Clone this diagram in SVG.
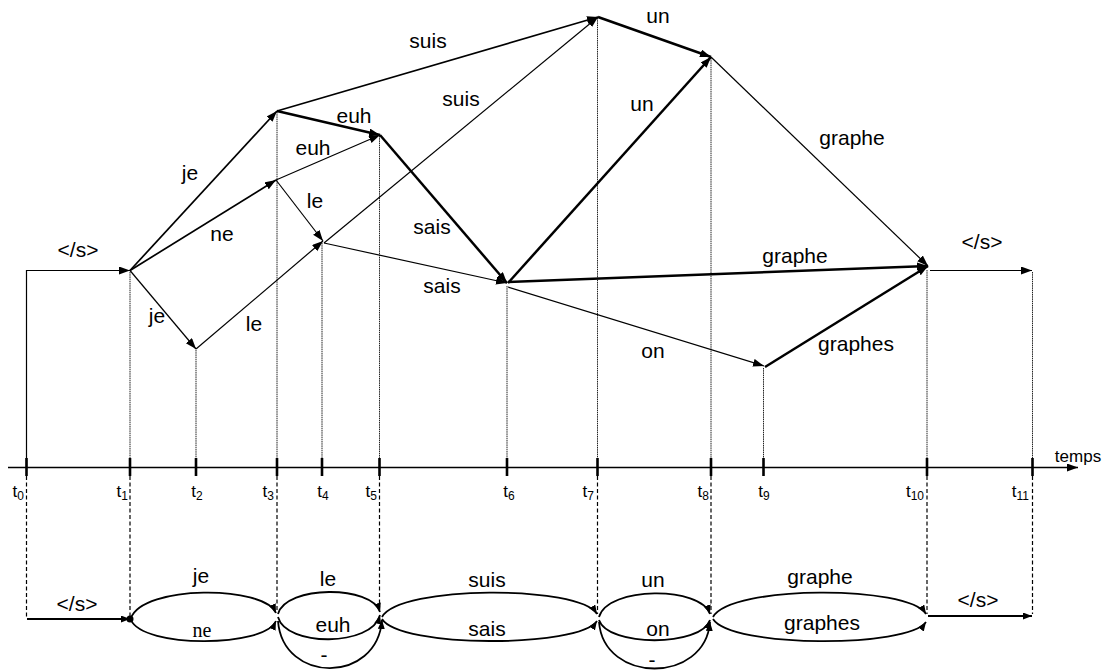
<svg xmlns="http://www.w3.org/2000/svg" width="1110" height="670" viewBox="0 0 1110 670">
<defs>
<marker id="ah" markerUnits="userSpaceOnUse" markerWidth="12" markerHeight="10" refX="11" refY="4" orient="auto">
<path d="M0,0 L11,4 L0,8 Z" fill="#000"/>
</marker>
<marker id="ahs" markerUnits="userSpaceOnUse" markerWidth="10" markerHeight="8" refX="9" refY="3.5" orient="auto">
<path d="M0,0 L9,3.5 L0,7 Z" fill="#000"/>
</marker>
</defs>
<style>
text{font-family:"Liberation Sans",Arial,sans-serif;fill:#000}
.lb{font-size:21px;text-anchor:middle}
.serif{font-family:"Liberation Serif","Times New Roman",serif;font-size:20px;text-anchor:middle}
.tl{font-size:17px}
.sub{font-size:12px}
.e{fill:none;stroke:#000;marker-end:url(#ah)}
.w1{stroke-width:1.2}
.w2{stroke-width:1.7}
.w3{stroke-width:2.5}
.vl{stroke:#222;stroke-width:1;stroke-dasharray:1.5 0.7;fill:none}
.dl{stroke:#000;stroke-width:1.2;stroke-dasharray:4 2.5;fill:none}
.tk{stroke:#000;stroke-width:2.6}
.arc{fill:none;stroke:#000;stroke-width:1.8;marker-end:url(#ahs)}
</style>

<g id="axis">
<line x1="8" y1="467.5" x2="1078" y2="467.5" stroke="#000" stroke-width="1.4" marker-end="url(#ah)"/>
<text x="1078" y="462" style="font-size:17px" text-anchor="middle">temps</text>
</g>

<g id="t0"><line class="tk" x1="26.5" y1="458" x2="26.5" y2="476"/><line class="dl" x1="26.5" y1="476" x2="26.5" y2="619"/><text class="tl" x="24" y="497" text-anchor="end">t<tspan class="sub" dy="3">0</tspan></text></g>
<g id="t1"><line class="vl" x1="130" y1="272" x2="130" y2="467"/><line class="tk" x1="130" y1="458" x2="130" y2="476"/><line class="dl" x1="130" y1="476" x2="130" y2="617"/><text class="tl" x="128" y="497" text-anchor="end">t<tspan class="sub" dy="3">1</tspan></text></g>
<g id="t2"><line class="vl" x1="196" y1="350" x2="196" y2="467"/><line class="tk" x1="196" y1="458" x2="196" y2="476"/><text class="tl" x="197" y="497" text-anchor="middle">t<tspan class="sub" dy="3">2</tspan></text></g>
<g id="t3"><line class="vl" x1="277" y1="112" x2="277" y2="467"/><line class="tk" x1="277" y1="458" x2="277" y2="476"/><line class="dl" x1="277" y1="476" x2="277" y2="612"/><text class="tl" x="274" y="497" text-anchor="end">t<tspan class="sub" dy="3">3</tspan></text></g>
<g id="t4"><line class="vl" x1="322" y1="243" x2="322" y2="467"/><line class="tk" x1="322" y1="458" x2="322" y2="476"/><text class="tl" x="323" y="497" text-anchor="middle">t<tspan class="sub" dy="3">4</tspan></text></g>
<g id="t5"><line class="vl" x1="379.5" y1="136" x2="379.5" y2="467"/><line class="tk" x1="379.5" y1="458" x2="379.5" y2="476"/><line class="dl" x1="379.5" y1="476" x2="379.5" y2="612"/><text class="tl" x="377" y="497" text-anchor="end">t<tspan class="sub" dy="3">5</tspan></text></g>
<g id="t6"><line class="vl" x1="507" y1="286" x2="507" y2="467"/><line class="tk" x1="507" y1="458" x2="507" y2="476"/><text class="tl" x="509" y="497" text-anchor="middle">t<tspan class="sub" dy="3">6</tspan></text></g>
<g id="t7"><line class="vl" x1="597.5" y1="18" x2="597.5" y2="467"/><line class="tk" x1="597.5" y1="458" x2="597.5" y2="476"/><line class="dl" x1="597.5" y1="476" x2="597.5" y2="614"/><text class="tl" x="594" y="497" text-anchor="end">t<tspan class="sub" dy="3">7</tspan></text></g>
<g id="t8"><line class="vl" x1="711" y1="58" x2="711" y2="467"/><line class="tk" x1="711" y1="458" x2="711" y2="476"/><line class="dl" x1="711" y1="476" x2="711" y2="614"/><text class="tl" x="709" y="497" text-anchor="end">t<tspan class="sub" dy="3">8</tspan></text></g>
<g id="t9"><line class="vl" x1="763.5" y1="368" x2="763.5" y2="467"/><line class="tk" x1="763.5" y1="458" x2="763.5" y2="476"/><text class="tl" x="764" y="497" text-anchor="middle">t<tspan class="sub" dy="3">9</tspan></text></g>
<g id="t10"><line class="vl" x1="927" y1="270" x2="927" y2="467"/><line class="tk" x1="927" y1="458" x2="927" y2="476"/><line class="dl" x1="927" y1="476" x2="927" y2="614"/><text class="tl" x="924" y="497" text-anchor="end">t<tspan class="sub" dy="3">10</tspan></text></g>
<g id="t11"><line class="vl" x1="1032.5" y1="272" x2="1032.5" y2="467"/><line class="tk" x1="1032.5" y1="458" x2="1032.5" y2="476"/><line class="dl" x1="1032.5" y1="476" x2="1032.5" y2="614"/><text class="tl" x="1029" y="497" text-anchor="end">t<tspan class="sub" dy="3">11</tspan></text></g>

<g id="connectors">
<path class="e w1" d="M26.5,467 V270.5 H130"/>
<path class="e w2" d="M130,270.5 L277,111"/>
<path class="e w2" d="M130,270.5 L276,180"/>
<path class="e w1" d="M130,270.5 L196,349"/>
<path class="e w1" d="M196,349 L323,241"/>
<path class="e w1" d="M276,180 L323,241"/>
<path class="e w1" d="M276,180 L380,135"/>
<path class="e w3" d="M277,111 L380,135"/>
<path class="e w2" d="M277,111 L598,17"/>
<path class="e w1" d="M324,243 L598,17"/>
<path class="e w1" d="M324,243 L507,283"/>
<path class="e w3" d="M380,135 L507,283"/>
<path class="e w3" d="M598,17 L711,57"/>
<path class="e w3" d="M508,283 L711,57"/>
<path class="e w1" d="M711,57 L928,266"/>
<path class="e w3" d="M508,282 L928,266"/>
<path class="e w1" d="M508,287 L764,366"/>
<path class="e w3" d="M765,367 L928,266"/>
<path class="e w1" d="M930,270.5 H1032"/>
</g>

<g id="edge-labels">
<text class="lb" x="78" y="257">&lt;/s&gt;</text>
<text class="lb" x="190" y="180">je</text>
<text class="lb" x="222" y="241">ne</text>
<text class="lb" x="157" y="323">je</text>
<text class="lb" x="254" y="331">le</text>
<text class="lb" x="315" y="208">le</text>
<text class="lb" x="313" y="155">euh</text>
<text class="lb" x="354" y="123">euh</text>
<text class="lb" x="428" y="48">suis</text>
<text class="lb" x="461" y="106">suis</text>
<text class="lb" x="658" y="23">un</text>
<text class="lb" x="642" y="111">un</text>
<text class="lb" x="432" y="234">sais</text>
<text class="lb" x="442" y="293">sais</text>
<text class="lb" x="852" y="145">graphe</text>
<text class="lb" x="795" y="263">graphe</text>
<text class="lb" x="856" y="351">graphes</text>
<text class="lb" x="982" y="249">&lt;/s&gt;</text>
<text class="lb" x="653" y="358">on</text>
</g>

<g id="bottom-row">
<path class="arc" d="M27,619 H130"/>
<circle cx="130" cy="619" r="3.5" fill="#000"/>
<path class="arc" d="M131,618 C143,585 264,585 276,613"/>
<path class="arc" d="M131,620 C143,648 264,648 276,621"/>
<path class="arc" d="M278,614 C286,585 372,585 380,612"/>
<path class="arc" d="M278,617 C286,647 372,647 380,615"/>
<path class="arc" d="M278,621 C283,684 377,684 382,620"/>
<path class="arc" d="M382,617 C400,585 579,585 597,614"/>
<path class="arc" d="M382,619 C400,648 579,648 597,621"/>
<path class="arc" d="M599,617 C608,586 701,586 710,614"/>
<path class="arc" d="M599,620 C608,647 701,647 710,620"/>
<path class="arc" d="M599,622 C604,684 705,684 710,622"/>
<path class="arc" d="M713,617 C731,585 908,585 926,614"/>
<path class="arc" d="M713,619 C731,648 908,648 926,622"/>
<path class="arc" d="M928,616 H1032"/>
<text class="lb" x="77" y="611">&lt;/s&gt;</text>
<text class="lb" x="201" y="583">je</text>
<text class="serif" x="202" y="637">ne</text>
<text class="lb" x="328" y="586">le</text>
<text class="lb" x="333" y="632">euh</text>
<text class="lb" x="324" y="662">-</text>
<text class="lb" x="487" y="587">suis</text>
<text class="lb" x="487" y="636">sais</text>
<text class="lb" x="653" y="587">un</text>
<text class="lb" x="658" y="636">on</text>
<text class="lb" x="652" y="667">-</text>
<text class="lb" x="820" y="584">graphe</text>
<text class="lb" x="822" y="630">graphes</text>
<text class="lb" x="978" y="607">&lt;/s&gt;</text>
</g>
</svg>
